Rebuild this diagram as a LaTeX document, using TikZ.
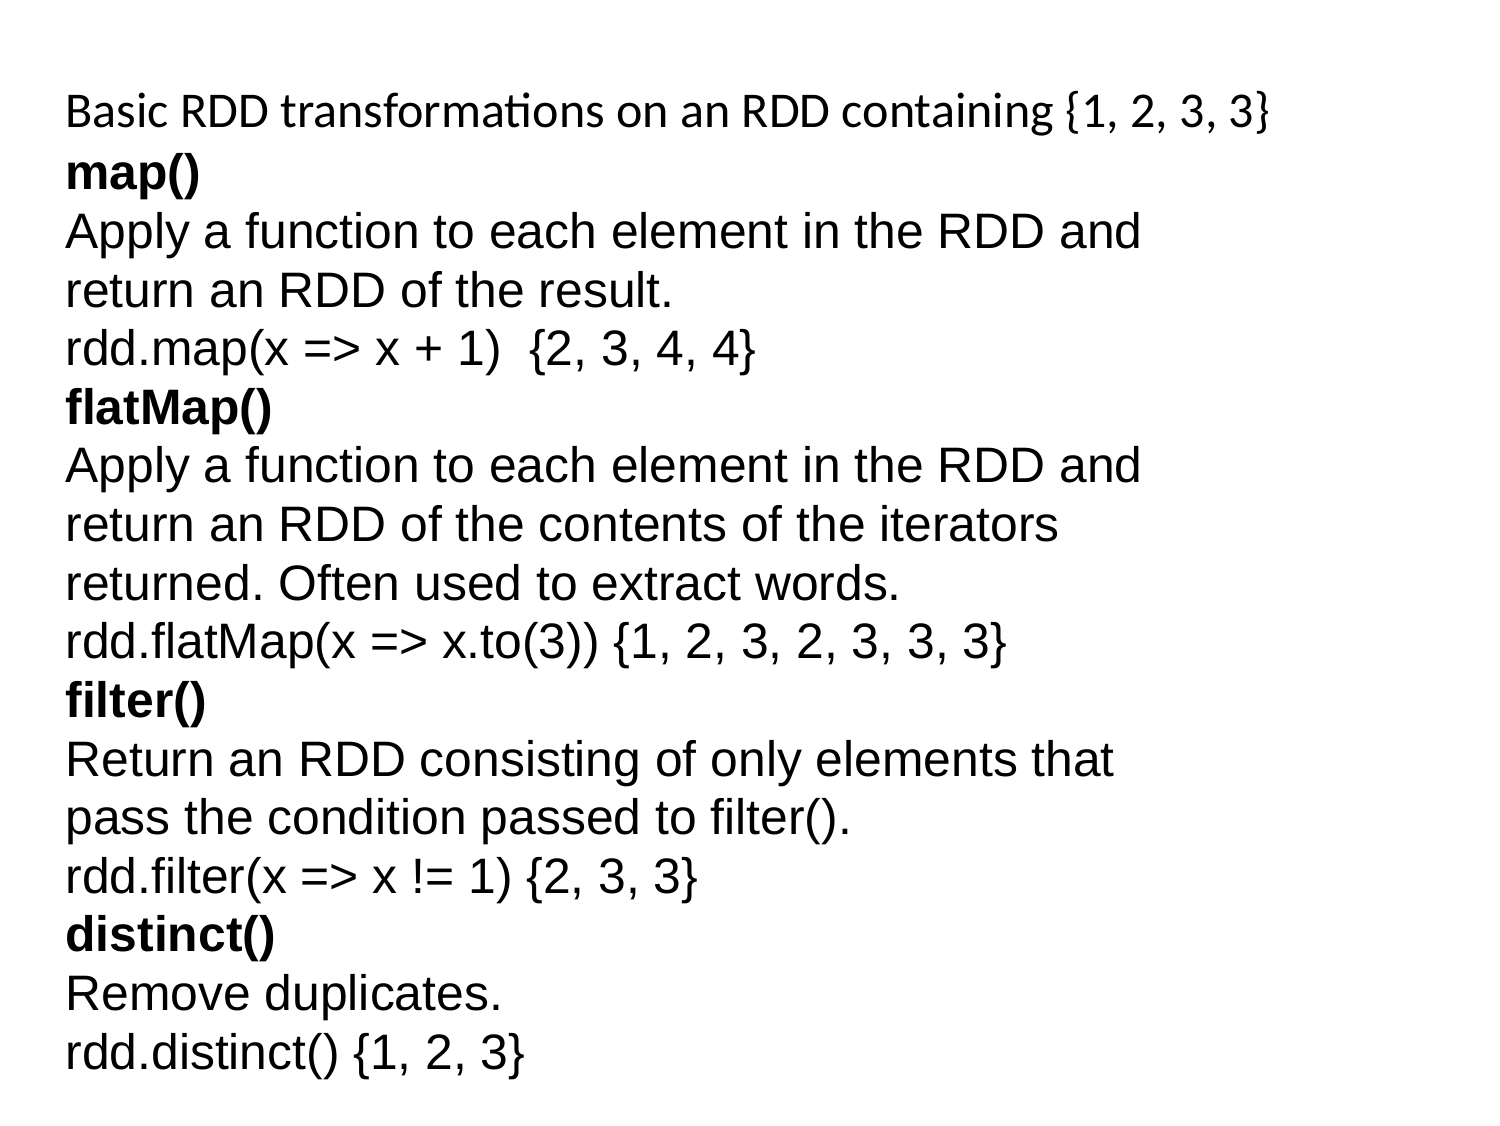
\documentclass[tikz,border=0pt]{standalone}
\usepackage{fontspec}
\setmainfont{Liberation Sans}
\newfontfamily\titlefont{Carlito}
\frenchspacing
\begin{document}
\begin{tikzpicture}[every node/.style={anchor=base west, inner sep=0pt},
                    plain/.style={font=\fontsize{18.9}{22}\selectfont},
                    bold/.style={font=\fontsize{18.9}{22}\selectfont\bfseries}]
                      \useasboundingbox (0, 0) rectangle (20, 15);
                      \node[font=\titlefont\fontsize{19}{22}\selectfont] (title) at (0.867, 13.3)
                          {Basic RDD transformations on an RDD containing \{1, 2, 3, 3\}};

                      \foreach [count=\k] \s/\t in {
                              bold/map(),
                              plain/Apply a function to each element in the RDD and,
                              plain/return an RDD of the result.,
                              {plain/rdd.map(x => x + 1)\ \ \{2, 3, 4, 4\}},
                              bold/flatMap(),
                              plain/Apply a function to each element in the RDD and,
                              plain/return an RDD of the contents of the iterators,
                              plain/returned. Often used to extract words.,
                              {plain/rdd.flatMap(x => x.to(3)) \{1, 2, 3, 2, 3, 3, 3\}},
                              bold/filter(),
                              plain/Return an RDD consisting of only elements that,
                              plain/pass the condition passed to filter().,
                              {plain/rdd.filter(x => x != 1) \{2, 3, 3\}},
                              bold/distinct(),
                              plain/Remove duplicates.,
                              {plain/rdd.distinct() \{1, 2, 3\}}} {
                              \node[\s] (line\k) at (0.867, {15 - (190 + 58.6*(\k-1))/75}) {\t};
                          }
                  \end{tikzpicture}
\end{document}
